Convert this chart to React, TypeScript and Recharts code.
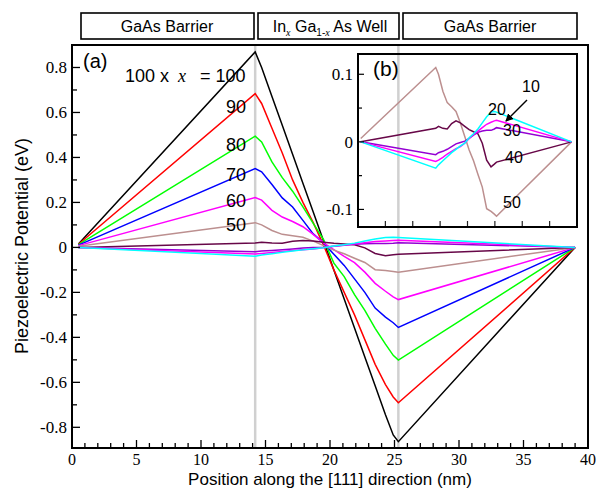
import React from 'react';
import { LineChart, Line, XAxis, YAxis, ReferenceLine } from 'recharts';

// positions along [111] (nm)
const position = [0.5, 14.2, 14.7, 15.5, 16.3, 17.1, 17.9, 18.7, 19.5, 20.3, 21.1, 21.9, 22.7, 23.5, 24.3, 24.9, 25.3, 39];

// piezoelectric potential (eV) for 100x = ...
const pot100 = [0.015, 0.869, 0.8, 0.671, 0.543, 0.414, 0.285, 0.157, 0.028, -0.1, -0.229, -0.358, -0.487, -0.615, -0.744, -0.834, -0.864, 0];
const pot90 = [0.014, 0.684, 0.64, 0.53, 0.42, 0.3, 0.2, 0.11, 0.01, -0.1, -0.2, -0.3, -0.41, -0.52, -0.61, -0.665, -0.691, 0];
const pot80 = [0.012, 0.495, 0.469, 0.38, 0.31, 0.25, 0.18, 0.107, 0.035, -0.07, -0.13, -0.21, -0.28, -0.36, -0.43, -0.48, -0.501, 0];
const pot70 = [0.01, 0.351, 0.336, 0.28, 0.22, 0.18, 0.12, 0.06, 0.02, -0.03, -0.08, -0.14, -0.2, -0.27, -0.31, -0.335, -0.356, 0];
const pot60 = [0.008, 0.222, 0.21, 0.165, 0.135, 0.115, 0.092, 0.058, 0.02, -0.01, -0.04, -0.068, -0.11, -0.16, -0.195, -0.22, -0.232, 0];
const pot50 = [0.005, 0.11, 0.1, 0.075, 0.058, 0.052, 0.045, 0.028, 0.008, -0.012, -0.028, -0.048, -0.067, -0.099, -0.103, -0.107, -0.11, 0];
const pot40 = [0, 0.02, 0.023, 0.02, 0.019, 0.027, 0.031, 0.028, 0.023, 0.018, 0.015, 0.012, -0.002, -0.027, -0.037, -0.033, -0.03, 0];
const pot30 = [0, -0.019, -0.016, -0.014, -0.011, -0.007, -0.003, -0.001, 0.001, 0.005, 0.01, 0.014, 0.016, 0.017, 0.017, 0.019, 0.021, 0];
const pot20 = [0, -0.029, -0.027, -0.023, -0.018, -0.014, -0.01, -0.007, -0.002, 0.005, 0.011, 0.016, 0.021, 0.026, 0.029, 0.031, 0.032, 0];
const pot10 = [0, -0.039, -0.034, -0.028, -0.022, -0.016, -0.011, -0.006, -0.002, 0.006, 0.012, 0.019, 0.028, 0.037, 0.044, 0.045, 0.044, 0];

const wellEdges = [14.2, 25.3];

const xTicks = Array.from({ length: 41 }, (_, i) => i);
const yTicks = [-0.8, -0.7, -0.6, -0.5, -0.4, -0.3, -0.2, -0.1, 0, 0.1, 0.2, 0.3, 0.4, 0.5, 0.6, 0.7, 0.8];
const insetXTicks = [5, 10, 15, 20, 25, 30, 35];
const insetYTicks = [-0.1, -0.05, 0, 0.05, 0.1];

const series = [
  { key: 'p100', values: pot100, color: '#000000' },
  { key: 'p90', values: pot90, color: '#ff0000' },
  { key: 'p80', values: pot80, color: '#00ff00' },
  { key: 'p70', values: pot70, color: '#0000ff' },
  { key: 'p60', values: pot60, color: '#ff00ff' },
  { key: 'p50', values: pot50, color: '#bc8f8f' },
  { key: 'p40', values: pot40, color: '#670748' },
  { key: 'p30', values: pot30, color: '#9400d3' },
  { key: 'p20', values: pot20, color: '#ff00ff' },
  { key: 'p10', values: pot10, color: '#00ffff' },
];
const insetSeries = ['p50', 'p40', 'p30', 'p20', 'p10'];

const rows = position.map((x, i) => {
  const r: Record<string, number> = { x };
  series.forEach((s) => { r[s.key] = s.values[i]; });
  return r;
});

const SERIF = "'Liberation Serif', 'Times New Roman', Times, serif";
const SANS = "'Liberation Sans', Arial, Helvetica, sans-serif";
const serifStyle = { fontFamily: SERIF };
const sansStyle = { fontFamily: SANS };

const XTick = (props: any) => {
  const { x, y, payload } = props;
  const v = payload.value;
  const major = v % 5 === 0;
  return (
    <g>
      <line x1={x} y1={y} x2={x} y2={y - (major ? 8 : 5)} stroke="#000" strokeWidth={1.3} />
      {major && (
        <text x={x} y={y + 17} textAnchor="middle" style={serifStyle} fontSize={16} fill="#000">{v}</text>
      )}
    </g>
  );
};

const YTick = (props: any) => {
  const { x, y, payload } = props;
  const v = payload.value;
  const major = Math.round(v * 10) % 2 === 0;
  return (
    <g>
      <line x1={x} y1={y} x2={x + (major ? 8 : 5)} y2={y} stroke="#000" strokeWidth={1.3} />
      {major && (
        <text x={x - 5} y={y + 6} textAnchor="end" style={serifStyle} fontSize={17} fill="#000">
          {v === 0 ? '0' : v.toFixed(1)}
        </text>
      )}
    </g>
  );
};

const InsetXTick = (props: any) => {
  const { x, y } = props;
  return <line x1={x} y1={y} x2={x} y2={y - 6} stroke="#222" strokeWidth={1.2} />;
};

const InsetYTick = (props: any) => {
  const { x, y, payload } = props;
  const v = payload.value;
  const major = Math.round(v * 100) % 10 === 0;
  return (
    <g>
      <line x1={x} y1={y} x2={x + (major ? 6 : 4)} y2={y} stroke="#000" strokeWidth={1.2} />
      {major && (
        <text x={x - 5} y={y + 6} textAnchor="end" style={serifStyle} fontSize={17} fill="#000">
          {v === 0 ? '0' : v.toFixed(1)}
        </text>
      )}
    </g>
  );
};

const curveLabels = [
  { t: '90', x: 246, y: 113 },
  { t: '80', x: 246, y: 151 },
  { t: '70', x: 246, y: 181 },
  { t: '60', x: 246, y: 207 },
  { t: '50', x: 246, y: 231 },
];

const insetLabels = [
  { t: '10', x: 522, y: 92 },
  { t: '20', x: 488, y: 115 },
  { t: '30', x: 503, y: 136 },
  { t: '40', x: 505, y: 163 },
  { t: '50', x: 503, y: 208 },
];

const headers = [
  { x: 81, w: 173 },
  { x: 258, w: 141 },
  { x: 403, w: 174 },
];

export default function App() {
  return (
    <div style={{ position: 'absolute', left: 0, top: 0, width: 605, height: 489, background: '#fff' }}>
      <LineChart width={605} height={489} data={rows} margin={{ top: 45, right: 17, bottom: 0, left: 0 }}>
        <XAxis
          dataKey="x"
          type="number"
          domain={[0, 40]}
          ticks={xTicks}
          interval={0}
          height={41}
          tickSize={0}
          tickMargin={0}
          tickLine={false}
          axisLine={false}
          tick={<XTick />}
        />
        <YAxis
          type="number"
          domain={[-0.892, 0.9]}
          ticks={yTicks}
          interval={0}
          width={72}
          tickSize={0}
          tickMargin={0}
          tickLine={false}
          axisLine={false}
          tick={<YTick />}
        />
        {wellEdges.map((w) => (
          <ReferenceLine key={w} x={w} stroke="#d0d0d0" strokeWidth={2.5} />
        ))}
        {series.map((s) => (
          <Line
            key={s.key}
            dataKey={s.key}
            type="linear"
            stroke={s.color}
            strokeWidth={1.5}
            dot={false}
            isAnimationActive={false}
          />
        ))}
      </LineChart>

      <div style={{ position: 'absolute', left: 300, top: 40 }}>
        <LineChart width={280} height={190} data={rows} margin={{ top: 14, right: 3, bottom: 0, left: 0 }}>
          <XAxis
            dataKey="x"
            type="number"
            domain={[0, 40]}
            ticks={insetXTicks}
            interval={0}
            height={3}
            tickSize={0}
            tickMargin={0}
            tickLine={false}
            axisLine={false}
            tick={<InsetXTick />}
          />
          <YAxis
            type="number"
            domain={[-0.126, 0.13]}
            ticks={insetYTicks}
            interval={0}
            width={58}
            tickSize={0}
            tickMargin={0}
            tickLine={false}
            axisLine={false}
            tick={<InsetYTick />}
          />
          {series
            .filter((s) => insetSeries.includes(s.key))
            .map((s) => (
              <Line
                key={s.key}
                dataKey={s.key}
                type="linear"
                stroke={s.color}
                strokeWidth={1.5}
                dot={false}
                isAnimationActive={false}
              />
            ))}
        </LineChart>
      </div>

      <svg
        width={605}
        height={489}
        style={{ position: 'absolute', left: 0, top: 0, pointerEvents: 'none' }}
      >
        <defs>
          <marker id="arrowHead" markerWidth="8" markerHeight="8" refX="7" refY="4" orient="auto" markerUnits="userSpaceOnUse">
            <path d="M0,0 L8,4 L0,8 z" fill="#000" />
          </marker>
        </defs>
        {headers.map((h, i) => (
          <rect key={i} x={h.x} y={13} width={h.w} height={26} fill="none" stroke="#000" strokeWidth={1.6} />
        ))}
        <text x={167} y={32} textAnchor="middle" style={sansStyle} fontSize={16}>GaAs Barrier</text>
        <text x={330} y={32} textAnchor="middle" style={sansStyle} fontSize={16}>
          In
          <tspan dy={4} fontSize={10} style={serifStyle} fontStyle="italic">x</tspan>
          <tspan dy={-4}> Ga</tspan>
          <tspan dy={4} fontSize={10}>1-</tspan>
          <tspan fontSize={10} style={serifStyle} fontStyle="italic">x</tspan>
          <tspan dy={-4}> As Well</tspan>
        </text>
        <text x={490} y={32} textAnchor="middle" style={sansStyle} fontSize={16}>GaAs Barrier</text>

        <rect x={72} y={45} width={516} height={403} fill="none" stroke="#000" strokeWidth={2} />
        <rect x={358} y={54} width={219} height={173} fill="none" stroke="#000" strokeWidth={2} />

        <text x={83} y={68} style={sansStyle} fontSize={20}>(a)</text>
        <text x={125} y={82} style={sansStyle} fontSize={18}>100 x</text>
        <text x={178} y={82} style={serifStyle} fontStyle="italic" fontSize={18}>x</text>
        <text x={200} y={82} style={sansStyle} fontSize={18}>= 100</text>
        {curveLabels.map((l) => (
          <text key={l.t} x={l.x} y={l.y} textAnchor="end" style={sansStyle} fontSize={18}>{l.t}</text>
        ))}

        <text x={373} y={76} style={sansStyle} fontSize={21}>(b)</text>
        {insetLabels.map((l) => (
          <text key={l.t} x={l.x} y={l.y} style={sansStyle} fontSize={16}>{l.t}</text>
        ))}
        <line x1={527} y1={100} x2={506} y2={121} stroke="#000" strokeWidth={1.5} markerEnd="url(#arrowHead)" />

        <text
          x={22}
          y={246}
          transform="rotate(-90 22 246)"
          textAnchor="middle"
          dominantBaseline="central"
          style={sansStyle}
          fontSize={18}
        >
          Piezoelectric Potential (eV)
        </text>
        <text x={330} y={485} textAnchor="middle" style={sansStyle} fontSize={17}>
          Position along the [111] direction (nm)
        </text>
      </svg>
    </div>
  );
}
